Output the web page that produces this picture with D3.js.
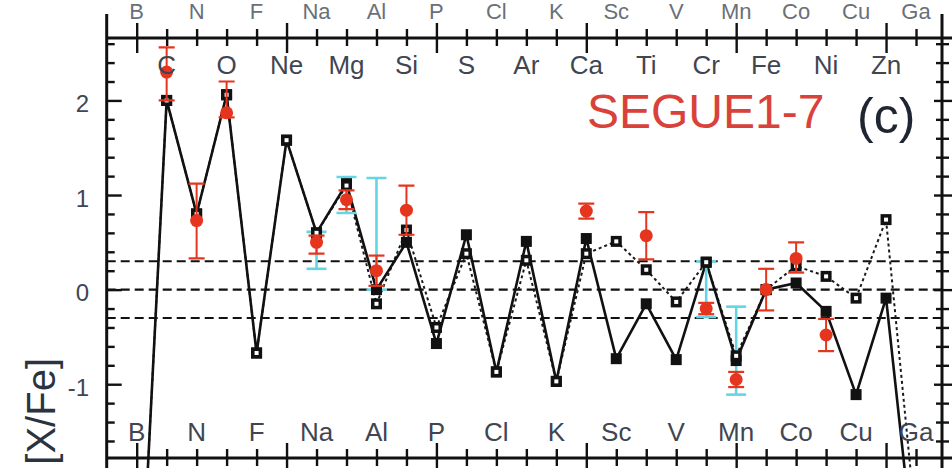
<!DOCTYPE html>
<html>
<head>
<meta charset="utf-8">
<script src="https://cdn.jsdelivr.net/npm/d3@7"></script>
<style>
  html, body { margin: 0; padding: 0; background: #fff; }
  svg { display: block; font-family: "Liberation Sans", Arial, Helvetica, sans-serif; }
</style>
</head>
<body>
<svg id="chart" width="952" height="468"></svg>
<script>
// Elements in order of atomic number
const elements = ["B","C","N","O","F","Ne","Na","Mg","Al","Si","P","S","Cl","Ar","K","Ca","Sc","Ti","V","Cr","Mn","Fe","Co","Ni","Cu","Zn","Ga"];
const atomicNumbers = [5,6,7,8,9,10,11,12,13,14,15,16,17,18,19,20,21,22,23,24,25,26,27,28,29,30,31];

// Yield models, [X/Fe]
const modelSolid  = [-4.2, 2.00, 0.80, 2.06, -0.67, 1.58, 0.60, 1.12, 0.00, 0.50, -0.57, 0.58, -0.87, 0.51, -0.97, 0.54, -0.73, -0.15, -0.74, 0.29, -0.75, 0.00, 0.07, -0.23, -1.11, -0.09, -3.0];
const modelDotted = [-4.2, 2.00, 0.80, 2.06, -0.67, 1.58, 0.60, 1.10, -0.15, 0.63, -0.40, 0.38, -0.87, 0.31, -0.97, 0.38, 0.51, 0.21, -0.13, 0.29, -0.70, 0.00, 0.25, 0.14, -0.09, 0.74, -2.5];

// Measured abundances of SEGUE1-7 with error bars
const obsElements = ["C","N","O","Na","Mg","Al","Si","Ca","Ti","Cr","Mn","Fe","Co","Ni"];
const obsValues   = [2.30, 0.73, 1.87, 0.50, 0.95, 0.20, 0.84, 0.83, 0.57, -0.20, -0.95, 0.00, 0.33, -0.48];
const obsErrLow   = [0.30, 0.40, 0.05, 0.12, 0.10, 0.16, 0.26, 0.08, 0.25, 0.06, 0.08, 0.22, 0.15, 0.17];
const obsErrHigh  = [0.26, 0.39, 0.33, 0.07, 0.10, 0.16, 0.26, 0.08, 0.25, 0.06, 0.08, 0.22, 0.17, 0.17];

// Second set of measurements: ranges only
const rangeElements = ["Na","Mg","Al","Cr","Mn"];
const rangeLow      = [0.22, 0.81, 0.00, -0.29, -1.11];
const rangeHigh     = [0.61, 1.19, 1.18, 0.30, -0.18];

// Reference levels and axis ticks
const refLines = [0.3, 0, -0.3];
const yTickValues = [2, 1, 0, -1];
const yTickLabels = ["2", "1", "0", "-1"];

const svg = d3.select("#chart");
const W = 952, H = 468;
const pL = 106.7, pR = 942, pT = 38, pB = 458;

const x = d3.scaleLinear().domain([4, 31.9]).range([pL, pR + 1]);
const y = d3.scaleLinear().domain([-1.78, 2.66]).range([pB, pT]);

const zOf = Object.fromEntries(elements.map((e, i) => [e, atomicNumbers[i]]));

const ink = "#111";
const labelInk = "#3f4652";
const red = "#e5351f";
const cyan = "#63d5e3";

// --- Tick sets
const majorZ = atomicNumbers.filter(z => z % 5 === 0);
const minorZ = atomicNumbers.filter(z => z % 5 !== 0);
const yMajor = [-1, 0, 1, 2];
const yMinor = d3.range(-16, 27, 2).map(d => d / 10).filter(v => Math.abs(v - Math.round(v)) > 1e-6);

function tickAxis(axisFn, scale, values, size, tx, ty) {
  const g = svg.append("g")
    .attr("transform", `translate(${tx},${ty})`)
    .call(axisFn(scale).tickValues(values).tickSize(size).tickFormat(""));
  g.select(".domain").remove();
  g.selectAll(".tick line").attr("stroke", ink).attr("stroke-width", 2.4);
  return g;
}

// --- Reference dashed lines
svg.append("g").selectAll("line").data(refLines).join("line")
  .attr("x1", pL).attr("x2", pR)
  .attr("y1", d => y(d)).attr("y2", d => y(d))
  .attr("stroke", ink).attr("stroke-width", 2.2)
  .attr("stroke-dasharray", "9,5");

// --- Clip region for the data
svg.append("clipPath").attr("id", "plotClip")
  .append("rect").attr("x", pL).attr("y", 14).attr("width", pR - pL).attr("height", H - 14);

const data = svg.append("g").attr("clip-path", "url(#plotClip)");

const lineGen = vals => d3.line()
  .x((d, i) => x(atomicNumbers[i]))
  .y(d => y(d))(vals);

// Dotted model
data.append("path").attr("d", lineGen(modelDotted))
  .attr("fill", "none").attr("stroke", "#1a1a1a").attr("stroke-width", 2)
  .attr("stroke-dasharray", "3,3");

// Solid model
data.append("path").attr("d", lineGen(modelSolid))
  .attr("fill", "none").attr("stroke", ink).attr("stroke-width", 2.6)
  .attr("stroke-linejoin", "round");

// --- Range bars (cyan)
const rangeG = data.append("g").attr("stroke", cyan).attr("stroke-width", 2.6);
rangeElements.forEach((e, i) => {
  const cx = x(zOf[e]);
  const y1 = y(rangeHigh[i]), y2 = y(rangeLow[i]);
  rangeG.append("line").attr("x1", cx).attr("x2", cx).attr("y1", y1).attr("y2", y2);
  rangeG.append("line").attr("x1", cx - 10).attr("x2", cx + 10).attr("y1", y1).attr("y2", y1);
  rangeG.append("line").attr("x1", cx - 10).attr("x2", cx + 10).attr("y1", y2).attr("y2", y2);
});

// --- Model squares
const sq = 11;
data.append("g").selectAll("rect").data(modelSolid).join("rect")
  .attr("x", (d, i) => x(atomicNumbers[i]) - sq / 2)
  .attr("y", d => y(d) - sq / 2)
  .attr("width", sq).attr("height", sq).attr("fill", ink);

const dotted = data.append("g");
modelDotted.forEach((d, i) => {
  const cx = x(atomicNumbers[i]), cy = y(d);
  dotted.append("rect").attr("x", cx - sq / 2).attr("y", cy - sq / 2)
    .attr("width", sq).attr("height", sq).attr("fill", ink);
  dotted.append("rect").attr("x", cx - 2).attr("y", cy - 2)
    .attr("width", 4).attr("height", 4).attr("fill", "#fff");
});

// --- Observed points with error bars (red)
const obsG = data.append("g");
obsElements.forEach((e, i) => {
  const cx = x(zOf[e]);
  const yTop = y(obsValues[i] + obsErrHigh[i]);
  const yBot = y(obsValues[i] - obsErrLow[i]);
  obsG.append("line").attr("x1", cx).attr("x2", cx).attr("y1", yTop).attr("y2", yBot)
    .attr("stroke", red).attr("stroke-width", 2);
  [yTop, yBot].forEach(yy => obsG.append("line")
    .attr("x1", cx - 8).attr("x2", cx + 8).attr("y1", yy).attr("y2", yy)
    .attr("stroke", red).attr("stroke-width", 2.2));
  obsG.append("circle").attr("cx", cx).attr("cy", y(obsValues[i])).attr("r", 6.5).attr("fill", red);
});

// --- Frame
const frame = svg.append("g").attr("stroke", ink).attr("stroke-width", 3);
frame.append("line").attr("x1", pL).attr("x2", pL).attr("y1", 14).attr("y2", H);
frame.append("line").attr("x1", pR).attr("x2", pR).attr("y1", 14).attr("y2", H);
frame.append("line").attr("x1", pL).attr("x2", W).attr("y1", pT).attr("y2", pT);
frame.append("line").attr("x1", pL).attr("x2", W).attr("y1", pB).attr("y2", pB);

// Top and bottom ticks cross the axis lines
[pT, pB].forEach(ty => {
  tickAxis(d3.axisTop, x, majorZ, 15, 0, ty);
  tickAxis(d3.axisBottom, x, majorZ, 15, 0, ty);
  tickAxis(d3.axisTop, x, minorZ, 9, 0, ty);
  tickAxis(d3.axisBottom, x, minorZ, 8, 0, ty);
});
// Left ticks point inward
tickAxis(d3.axisRight, y, yMajor, 15, pL, 0);
tickAxis(d3.axisRight, y, yMinor, 8, pL, 0);
// Right ticks cross the axis line
tickAxis(d3.axisLeft, y, yMajor, 8, pR, 0);
tickAxis(d3.axisRight, y, yMajor, 11, pR, 0);
tickAxis(d3.axisLeft, y, yMinor, 6, pR, 0);
tickAxis(d3.axisRight, y, yMinor, 7, pR, 0);

// --- Element labels: even Z along the top, odd Z along the bottom
svg.append("g").selectAll("text")
  .data(elements.filter((e, i) => atomicNumbers[i] % 2 === 0)).join("text")
  .attr("x", e => x(zOf[e])).attr("y", 74)
  .attr("text-anchor", "middle").attr("font-size", 26).attr("fill", labelInk)
  .text(e => e);

svg.append("g").selectAll("text")
  .data(elements.filter((e, i) => atomicNumbers[i] % 2 === 1)).join("text")
  .attr("x", e => x(zOf[e])).attr("y", 441)
  .attr("text-anchor", "middle").attr("font-size", 26).attr("fill", labelInk)
  .text(e => e);

// Odd-Z labels of the neighbouring panel above
svg.append("g").selectAll("text")
  .data(elements.filter((e, i) => atomicNumbers[i] % 2 === 1)).join("text")
  .attr("x", e => x(zOf[e])).attr("y", 19)
  .attr("text-anchor", "middle").attr("font-size", 22).attr("fill", "#6a707a")
  .text(e => e);

// --- Y tick labels
svg.append("g").selectAll("text").data(yTickValues).join("text")
  .attr("x", 89).attr("y", d => y(d) + 11.5)
  .attr("text-anchor", "end").attr("font-size", 24).attr("fill", labelInk)
  .text((d, i) => yTickLabels[i]);

// --- Y axis title
svg.append("text")
  .attr("transform", "translate(55,358) rotate(-90)")
  .attr("text-anchor", "end").attr("font-size", 40).attr("fill", "#2c3340")
  .text("[X/Fe]");

// --- Star name and panel letter
svg.append("text").attr("x", 587).attr("y", 128)
  .attr("font-size", 48).attr("fill", "#d9423a").text("SEGUE1-7");
svg.append("text").attr("x", 857).attr("y", 133)
  .attr("font-size", 50).attr("fill", "#1f2533").text("(c)");
</script>
</body>
</html>
